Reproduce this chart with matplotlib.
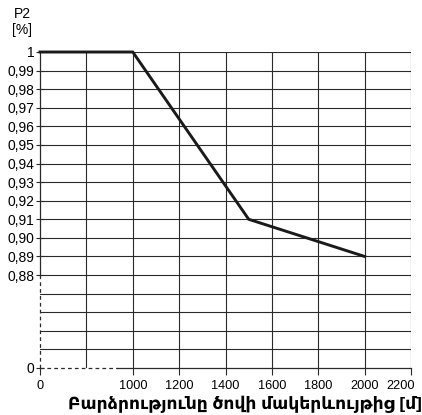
import numpy as np
import matplotlib.pyplot as plt
from matplotlib.transforms import ScaledTranslation

plt.rcParams['font.family'] = ['Liberation Sans', 'DejaVu Sans']

# data
altitude = [0, 1000, 1500, 2000]
p2 = [1.00, 1.00, 0.91, 0.89]

x_ticks = [0, 1000, 1200, 1400, 1600, 1800, 2000, 2200]
y_ticks = [0, 0.88, 0.89, 0.90, 0.91, 0.92, 0.93, 0.94, 0.95,
           0.96, 0.97, 0.98, 0.99, 1.0]
y_labels = ['0', '0,88', '0,89', '0,90', '0,91', '0,92', '0,93', '0,94',
            '0,95', '0,96', '0,97', '0,98', '0,99', '1']


# broken scales: 0..1000 squeezed into two cells, 0..0.88 into five rows
def xpos(x):
    x = np.asarray(x, dtype=float)
    return np.where(x < 1000, x / 500.0, 2 + (x - 1000) / 200.0)


def ypos(y):
    y = np.asarray(y, dtype=float)
    return np.where(y < 0.88, y / 0.88 * 5, 5 + (y - 0.88) / 0.01)


fig = plt.figure(figsize=(4.22, 4.15), dpi=100)
ax = fig.add_axes([0.0948, 0.1133, 0.8792, 0.7614])

xmax = float(xpos(2200))
ymax = float(ypos(1.0))
ax.set_xlim(0, xmax)
ax.set_ylim(0, ymax)

grid_kw = dict(color='#2a2a2a', lw=0.8, zorder=1)
for gx in range(1, int(xmax) + 1):
    ax.plot([gx, gx], [0, ymax], **grid_kw)
for gy in range(1, int(ymax) + 1):
    ax.plot([0, xmax], [gy, gy], **grid_kw)

# axes lines: dashed where the scale is broken
ax.plot([0, 0], [5, ymax], color='#2a2a2a', lw=0.9, zorder=2, clip_on=False)
ax.plot([0, 0], [0, 5], color='#2a2a2a', lw=0.9, ls=(0, (3, 2.5)),
        zorder=2, clip_on=False)
ax.plot([0, 1.66], [0, 0], color='#2a2a2a', lw=0.9, ls=(0, (3, 2.5)),
        zorder=2, clip_on=False)
ax.plot([1.66, xmax], [0, 0], color='#2a2a2a', lw=0.9, zorder=2,
        clip_on=False)

ax.plot(xpos(altitude), ypos(p2), color='#1a1a1a', lw=2.1,
        solid_joinstyle='miter', zorder=3, clip_on=False)

for s in ax.spines.values():
    s.set_visible(False)

ax.set_xticks(xpos(x_ticks))
ax.set_xticklabels([str(v) for v in x_ticks], fontsize=9.2)
ax.set_yticks(ypos(y_ticks))
ax.set_yticklabels(y_labels, fontsize=10)
ax.tick_params(axis='y', direction='inout', length=6, width=0.8,
               color='#2a2a2a', pad=1)
ax.tick_params(axis='x', direction='out', length=5, width=0.8,
               color='#2a2a2a', pad=4)

# the last x label is pulled in so it stays inside the figure
last = ax.get_xticklabels()[-1]
last.set_transform(last.get_transform()
                   + ScaledTranslation(-10 / 100, 0, fig.dpi_scale_trans))

fig.text(0.052, 0.966, 'P2', fontsize=10, ha='center', va='center')
fig.text(0.052, 0.928, '[%]', fontsize=10, ha='center', va='center')

fig.text(0.581, 0.025, 'Բարձրությունը ծովի մակերևույթից [մ]', fontsize=12.3,
         fontweight='bold', ha='center', va='center')

fig.savefig('out.png', dpi=100)
